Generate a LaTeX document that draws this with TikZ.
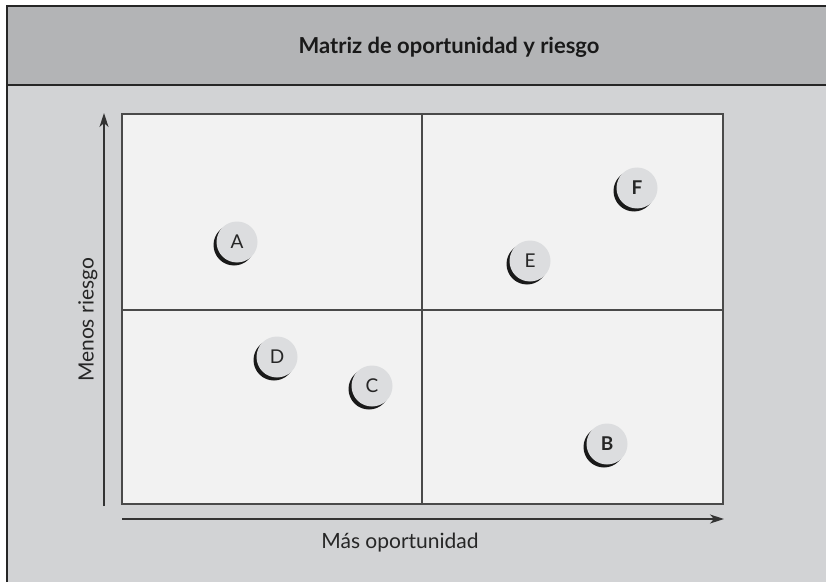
\documentclass[tikz,border=0pt]{standalone}
\usepackage{fontspec}
\setmainfont{Lato}
\usetikzlibrary{arrows.meta}
\definecolor{headgray}{HTML}{B3B4B6}
\definecolor{bodygray}{HTML}{D2D3D5}
\definecolor{boxfill}{HTML}{F2F2F2}
\definecolor{dotfill}{HTML}{DCDDDF}
\definecolor{linegray}{HTML}{4A4A4A}
\tikzset{
  frameline/.style={draw=black!85, line width=1.6pt},
  gridline/.style={draw=linegray, line width=1.8pt},
  axisarrow/.style={draw=black!80, line width=1.3pt, -{Stealth[length=14pt,width=9pt,inset=4pt]}},
  dot/.style={circle, fill=dotfill, minimum size=41pt, inner sep=0pt, font=\fontsize{19}{22}\selectfont, text=black!85},
  dotshadow/.style={circle, fill=black!90, minimum size=41pt, inner sep=0pt},
  axislabel/.style={font=\fontsize{21}{24}\selectfont, text=black!85},
}
\newcommand{\mydot}[4]{%
  \node[dotshadow] at ([shift={(-3pt,-3pt)}]#2,#3) {};
  \node[dot] (#1) at (#2,#3) {#4};
}
\begin{document}
\begin{tikzpicture}[x=1pt,y=1pt]
\useasboundingbox (0,0) rectangle (826,582);
% backgrounds
\fill[bodygray] (7,0) rectangle (826,497);
\fill[headgray] (7,497) rectangle (826,576);
\draw[frameline] (7,0) -- (7,576) -- (826,576);
\draw[frameline] (7,497) -- (826,497);
\node[font=\bfseries\fontsize{22}{26}\selectfont, text=black!90] (title) at (449,535) {Matriz de oportunidad y riesgo};
% matrix box
\coordinate (bl) at (122,78);
\coordinate (tr) at (723,468);
\fill[boxfill] (bl) rectangle (tr);
\coordinate (vtop) at (422,468);
\coordinate (vbot) at (422,78);
\coordinate (hleft) at (122,272);
\coordinate (hright) at (723,272);
\draw[gridline] (vbot) -- (vtop);
\draw[gridline] (hleft) -- (hright);
\draw[draw=linegray, line width=1.6pt] (bl) rectangle (tr);
% axes
\coordinate (ystart) at (104,76);
\coordinate (yend) at (104,469);
\coordinate (xstart) at (122,63);
\coordinate (xend) at (724,63);
\draw[axisarrow] (ystart) -- (yend);
\draw[axisarrow] (xstart) -- (xend);
\node[axislabel] (xlabel) at (400,39) {Más oportunidad};
\node[axislabel, rotate=90] (ylabel) at (88,262) {Menos riesgo};
% dots
\mydot{A}{237}{340}{A}
\mydot{E}{530}{321}{E}
\mydot{D}{277}{225}{D}
\mydot{C}{372}{196}{C}
\mydot{F}{637}{394}{\textbf{F}}
\mydot{B}{607}{138}{\textbf{B}}
\end{tikzpicture}
\end{document}
